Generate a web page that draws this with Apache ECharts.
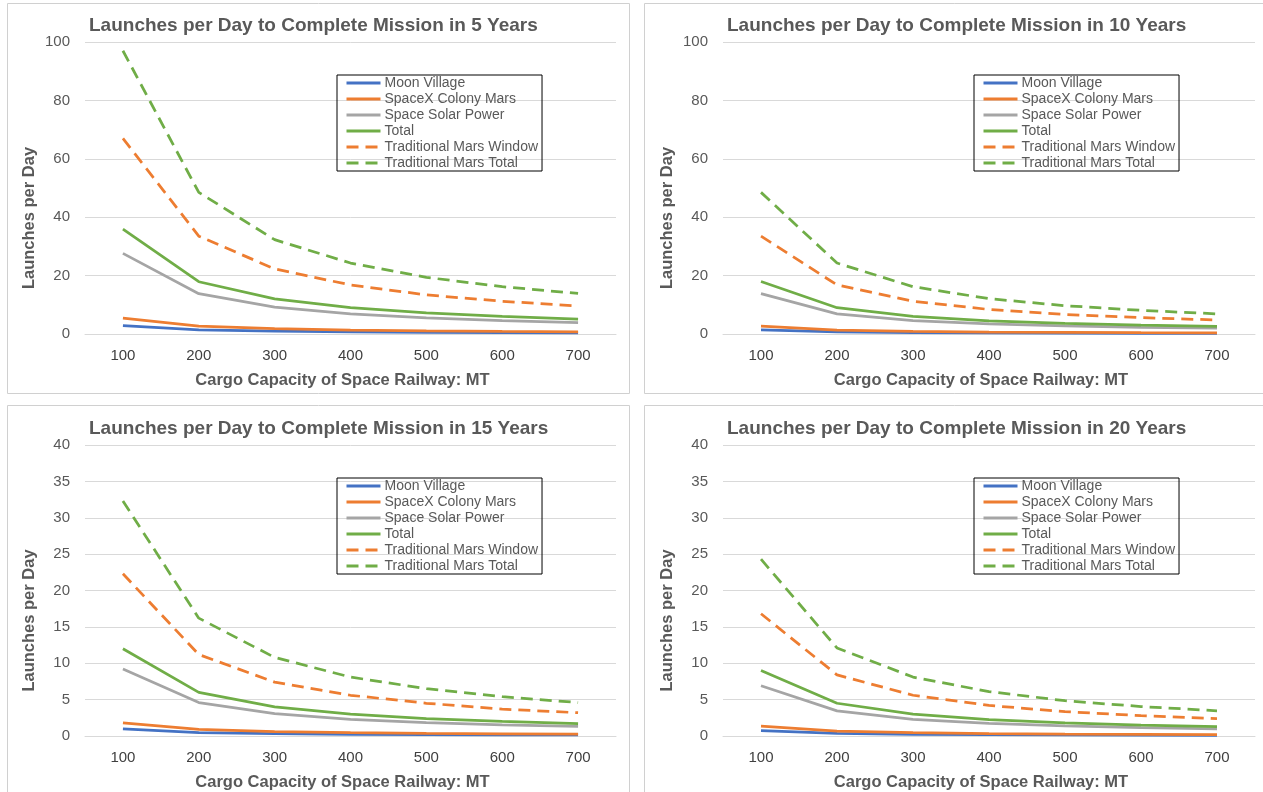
<!DOCTYPE html>
<html>
<head>
<meta charset="utf-8">
<title>Launches per Day</title>
<script src="https://cdn.jsdelivr.net/npm/echarts@6/dist/echarts.min.js"></script>
<style>
  html, body { margin: 0; padding: 0; background: #fff; }
  #chart { width: 1263px; height: 792px; }
</style>
</head>
<body>
<div id="chart"></div>
<script>
// x categories (cargo capacity, MT)
const capacities = ['100', '200', '300', '400', '500', '600', '700'];

const seriesNames = [
  'Moon Village',
  'SpaceX Colony Mars',
  'Space Solar Power',
  'Total',
  'Traditional Mars Window',
  'Traditional Mars Total'
];

// 5 years
const moon5 = [2.9, 1.45, 0.97, 0.73, 0.58, 0.48, 0.41];
const spacex5 = [5.4, 2.7, 1.8, 1.35, 1.08, 0.9, 0.77];
const solar5 = [27.6, 13.8, 9.2, 6.9, 5.5, 4.6, 3.9];
const total5 = [35.9, 17.9, 12.0, 9.0, 7.2, 6.0, 5.1];
const tradWindow5 = [67, 33.5, 22.3, 16.8, 13.4, 11.2, 9.6];
const tradTotal5 = [97, 48.5, 32.3, 24.3, 19.4, 16.2, 13.9];

// 10 years
const moon10 = [1.45, 0.73, 0.48, 0.36, 0.29, 0.24, 0.21];
const spacex10 = [2.7, 1.35, 0.9, 0.68, 0.54, 0.45, 0.39];
const solar10 = [13.8, 6.9, 4.6, 3.45, 2.76, 2.3, 1.97];
const total10 = [18, 9, 6, 4.5, 3.6, 3.0, 2.57];
const tradWindow10 = [33.5, 16.8, 11.2, 8.4, 6.7, 5.6, 4.8];
const tradTotal10 = [48.5, 24.3, 16.2, 12.1, 9.7, 8.1, 6.9];

// 15 years
const moon15 = [0.97, 0.48, 0.32, 0.24, 0.19, 0.16, 0.14];
const spacex15 = [1.8, 0.9, 0.6, 0.45, 0.36, 0.3, 0.26];
const solar15 = [9.2, 4.6, 3.07, 2.3, 1.84, 1.53, 1.31];
const total15 = [12, 6, 4, 3, 2.4, 2.0, 1.71];
const tradWindow15 = [22.3, 11.2, 7.4, 5.6, 4.5, 3.7, 3.2];
const tradTotal15 = [32.3, 16.2, 10.8, 8.1, 6.5, 5.4, 4.6];

// 20 years
const moon20 = [0.73, 0.36, 0.24, 0.18, 0.15, 0.12, 0.1];
const spacex20 = [1.35, 0.68, 0.45, 0.34, 0.27, 0.23, 0.19];
const solar20 = [6.9, 3.45, 2.3, 1.73, 1.38, 1.15, 0.99];
const total20 = [9, 4.5, 3, 2.25, 1.8, 1.5, 1.29];
const tradWindow20 = [16.8, 8.4, 5.6, 4.2, 3.35, 2.8, 2.4];
const tradTotal20 = [24.3, 12.1, 8.1, 6.1, 4.85, 4.05, 3.47];

// y axis ticks per panel
const yMax = [100, 100, 40, 40];
const yStep = [20, 20, 5, 5];
const titles = [
  'Launches per Day to Complete Mission in 5 Years',
  'Launches per Day to Complete Mission in 10 Years',
  'Launches per Day to Complete Mission in 15 Years',
  'Launches per Day to Complete Mission in 20 Years'
];

const panelData = [
  [moon5, spacex5, solar5, total5, tradWindow5, tradTotal5],
  [moon10, spacex10, solar10, total10, tradWindow10, tradTotal10],
  [moon15, spacex15, solar15, total15, tradWindow15, tradTotal15],
  [moon20, spacex20, solar20, total20, tradWindow20, tradTotal20]
];

// excel default colours
const colors = ['#4472C4', '#ED7D31', '#A5A5A5', '#70AD47', '#ED7D31', '#70AD47'];
const dashed = [false, false, false, false, true, true];

const FONT = '"Liberation Sans", Arial, sans-serif';
const TEXT_GRAY = '#595959';
const GRID_GRAY = '#d9d9d9';

// panel layout (px)
const panels = [
  { x: 85, y: 42, w: 531, h: 292, box: [7, 3, 622, 390], legend: [337, 75] },
  { x: 723, y: 42, w: 532, h: 292, box: [644, 3, 640, 390], legend: [974, 75] },
  { x: 85, y: 445, w: 531, h: 291, box: [7, 405, 622, 400], legend: [337, 478] },
  { x: 723, y: 445, w: 532, h: 291, box: [644, 405, 640, 400], legend: [974, 478] }
];

const chart = echarts.init(document.getElementById('chart'), null, { renderer: 'canvas' });

const grid = [], xAxis = [], yAxis = [], title = [], legend = [], series = [], graphic = [];

panels.forEach((p, i) => {
  // light frame around each chart
  graphic.push({
    type: 'rect',
    silent: true,
    z: -1,
    shape: { x: p.box[0] + 0.5, y: p.box[1] + 0.5, width: p.box[2], height: p.box[3] },
    style: { fill: '#fff', stroke: '#d0d0d0', lineWidth: 1 }
  });

  grid.push({ left: p.x, top: p.y, width: p.w, height: p.h, containLabel: false });

  title.push({
    text: titles[i],
    left: p.x + 4,
    top: p.y - 26,
    padding: 0,
    textStyle: { fontFamily: FONT, fontSize: 19, fontWeight: 'bold', color: TEXT_GRAY }
  });

  xAxis.push({
    type: 'category',
    gridIndex: i,
    data: capacities,
    boundaryGap: true,
    axisLine: { show: true, lineStyle: { color: GRID_GRAY, width: 1 } },
    axisTick: { show: false },
    axisLabel: { color: '#404040', fontSize: 15, fontFamily: FONT, margin: 14 },
    name: 'Cargo Capacity of Space Railway: MT',
    nameLocation: 'middle',
    nameGap: 38,
    nameTextStyle: { fontFamily: FONT, fontSize: 16.5, fontWeight: 'bold', color: TEXT_GRAY, padding: [0, 16, 0, 0] }
  });

  yAxis.push({
    type: 'value',
    gridIndex: i,
    min: 0,
    max: yMax[i],
    interval: yStep[i],
    axisLine: { show: false },
    axisTick: { show: false },
    splitLine: { lineStyle: { color: GRID_GRAY, width: 1 } },
    axisLabel: { color: TEXT_GRAY, fontSize: 15, fontFamily: FONT, margin: 15 },
    name: 'Launches per Day',
    nameLocation: 'middle',
    nameGap: 47,
    // push the rotated title a bit lower, like the original
    nameTextStyle: { fontFamily: FONT, fontSize: 16.5, fontWeight: 'bold', color: TEXT_GRAY, padding: [0, 60, 0, 0] }
  });

  legend.push({
    data: seriesNames,
    orient: 'vertical',
    left: p.legend[0],
    top: p.legend[1],
    padding: [1, 4, 1, 8],
    itemWidth: 34,
    itemHeight: 14,
    itemGap: 2,
    borderColor: '#000',
    borderWidth: 1,
    selectedMode: false,
    itemStyle: { opacity: 0 },
    lineStyle: { width: 3 },
    textStyle: { fontFamily: FONT, fontSize: 14, color: TEXT_GRAY, padding: [0, 0, 0, -1], lineHeight: 14 }
  });

  panelData[i].forEach((vals, k) => {
    series.push({
      name: seriesNames[k],
      type: 'line',
      xAxisIndex: i,
      yAxisIndex: i,
      data: vals,
      symbol: 'none',
      silent: true,
      animation: false,
      lineStyle: {
        color: colors[k],
        width: 2.75,
        type: dashed[k] ? [12, 7] : 'solid'
      },
      itemStyle: { color: colors[k] }
    });
  });
});

chart.setOption({
  animation: false,
  backgroundColor: '#fff',
  graphic: graphic,
  title: title,
  grid: grid,
  xAxis: xAxis,
  yAxis: yAxis,
  legend: legend,
  series: series
});
</script>
</body>
</html>
